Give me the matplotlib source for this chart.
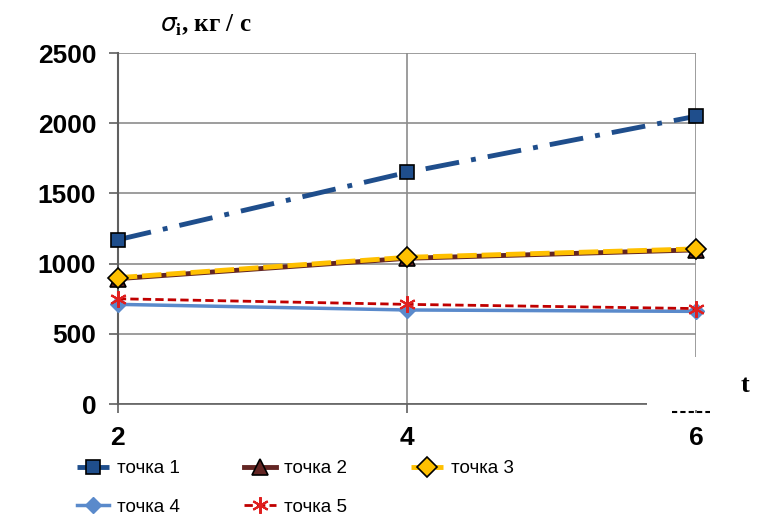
import matplotlib
matplotlib.use("Agg")
import matplotlib.pyplot as plt
from matplotlib.patches import Rectangle
from matplotlib.lines import Line2D

# data
t = [2, 4, 6]
point1 = [1170, 1650, 2050]
point2 = [893, 1038, 1098]
point3 = [900, 1045, 1105]
point4 = [710, 670, 660]
point5 = [750, 710, 680]
labels = ["точка 1", "точка 2", "точка 3", "точка 4", "точка 5"]
y_ticks = [0, 500, 1000, 1500, 2000, 2500]

plt.rcParams["font.family"] = ["Liberation Sans", "DejaVu Sans"]

fig = plt.figure(figsize=(7.6, 5.2), dpi=100)
ax = fig.add_axes([0.155, 0.223, 0.761, 0.675])

l1, = ax.plot(t, point1, color="#1F4E8C", lw=3.5, ls=(0, (7, 2.5, 1, 2.5)),
              marker="s", ms=10, mfc="#1F4E8C", mec="black", mew=1.2, label=labels[0], zorder=5)
l2, = ax.plot(t, point2, color="#632523", lw=3.5, ls="-",
              marker="^", ms=11, mfc="#632523", mec="black", mew=1.2, label=labels[1], zorder=4)
l3, = ax.plot(t, point3, color="#FFC000", lw=3.5, ls=(0, (4, 1)),
              marker="D", ms=10, mfc="#FFC000", mec="black", mew=1.2, label=labels[2], zorder=5)
l4, = ax.plot(t, point4, color="#5A8ACB", lw=2.5, ls="-",
              marker="D", ms=8, mfc="#5A8ACB", mec="#5A8ACB", label=labels[3], zorder=4)
l5, = ax.plot(t, point5, color="#C00000", lw=2, ls=(0, (3, 1.5)),
              marker=(6, 2, 0), ms=12, mfc="#E02020", mec="#E02020", mew=1.5, label=labels[4], zorder=5)
for ln in (l1, l2, l3, l4, l5):
    ln.set_clip_on(False)

ax.set_xlim(2, 6)
ax.set_ylim(0, 2500)
ax.set_xticks(t)
ax.set_yticks(y_ticks)
ax.grid(True, color="#8C8C8C", lw=1.2)
ax.set_axisbelow(True)
for s in ["top", "right"]:
    ax.spines[s].set_visible(False)
ax.spines["left"].set_color("#606060")
ax.spines["left"].set_linewidth(1.5)
ax.spines["bottom"].set_color("#606060")
ax.spines["bottom"].set_linewidth(1.2)
ax.tick_params(axis="both", direction="out", length=6.5, width=1.2, color="#606060",
               labelsize=19, pad=9)
for lab in ax.get_xticklabels() + ax.get_yticklabels():
    lab.set_fontweight("bold")

# white patch over the lower right corner, as in the source picture
fig.patches.append(Rectangle((647 / 760, 1 - 410 / 520), 113 / 760, 53 / 520,
                             transform=fig.transFigure, facecolor="white",
                             edgecolor="none", zorder=10))
fig.add_artist(Line2D([672 / 760, 710 / 760], [1 - 412 / 520] * 2, color="black",
                      lw=1.5, ls=(0, (2.5, 1.5)), transform=fig.transFigure, zorder=11))
fig.text(745 / 760, 1 - 385 / 520, "t", fontsize=19, fontweight="bold",
         family="Liberation Serif", ha="center", va="center", zorder=12)

fig.text(160 / 760, 1 - 25 / 520, r"$\sigma_\mathregular{i}$, кг / с", fontsize=18,
         fontweight="bold", family="Liberation Serif", ha="left", va="center")

# row-major order for a 3-column legend
order = [l1, l4, l2, l5, l3]
ax.legend(order, [h.get_label() for h in order], loc="upper left",
          bbox_to_anchor=(-0.071, -0.16), ncol=3, frameon=False,
          fontsize=13.5, handlelength=1.7, handletextpad=0.45, columnspacing=3.4,
          labelspacing=1.15, borderaxespad=0, borderpad=0)

fig.savefig("out.png", dpi=100)
